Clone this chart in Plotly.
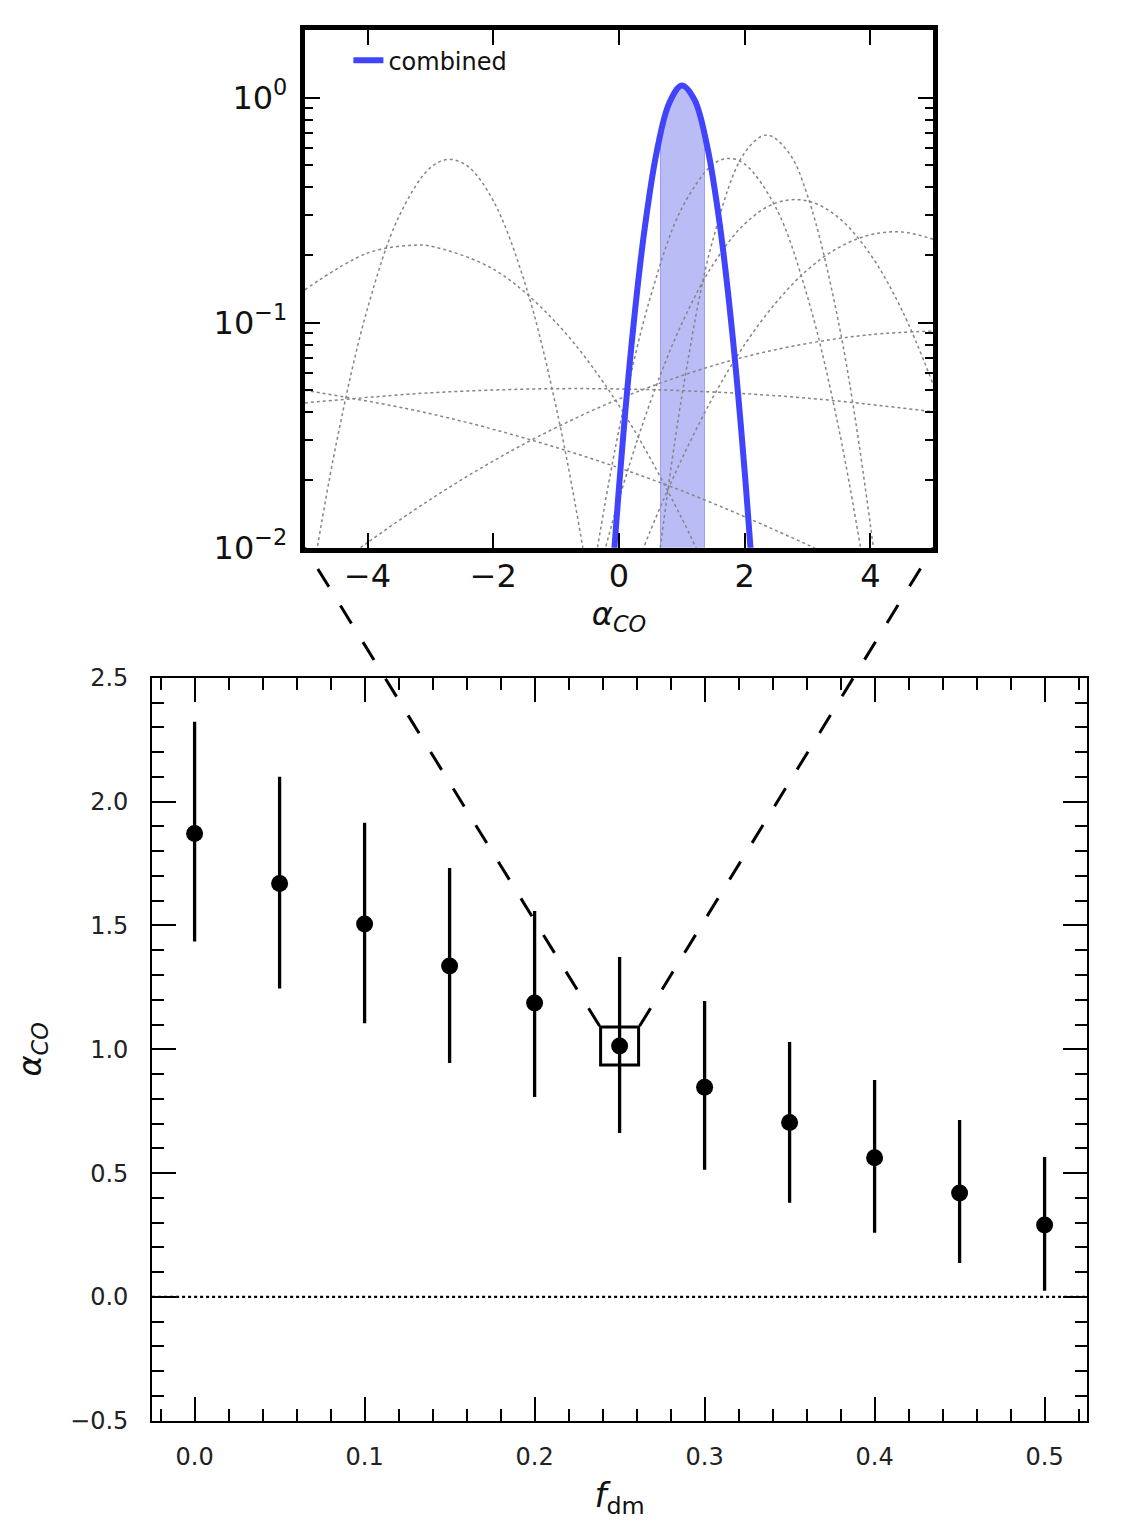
import numpy as np
import plotly.graph_objects as go

# ---- main panel: alpha_CO vs f_dm ----
f_dm = [0.0, 0.05, 0.10, 0.15, 0.20, 0.25, 0.30, 0.35, 0.40, 0.45, 0.50]
alpha_co = [1.872, 1.670, 1.506, 1.336, 1.187, 1.013, 0.847, 0.704, 0.562, 0.420, 0.290]
alpha_hi = [2.323, 2.101, 1.915, 1.732, 1.559, 1.373, 1.195, 1.029, 0.876, 0.714, 0.565]
alpha_lo = [1.435, 1.246, 1.105, 0.945, 0.807, 0.662, 0.514, 0.380, 0.259, 0.137, 0.025]
zoom_idx = 5  # the point shown in the inset

# ---- inset: individual likelihoods (dotted) ----
curve_a_x = [-5.0, -4.5, -4.0, -3.5, -3.0, -2.7, -2.4, -2.0, -1.5, -1.0, -0.5, 0.0]
curve_a_y = [0.00463, 0.0289, 0.116, 0.297, 0.489, 0.532, 0.494, 0.348, 0.151, 0.0421, 0.0075, 0.00086]
curve_b_x = [-5.0, -4.0, -3.27, -3.0, -2.0, -1.0, 0.0, 1.0, 1.5]
curve_b_y = [0.140, 0.204, 0.221, 0.219, 0.173, 0.100, 0.0428, 0.0135, 0.00671]
curve_c_x = [-0.5, 0.0, 0.5, 1.0, 1.5, 1.75, 2.0, 2.5, 3.0, 3.5, 4.0]
curve_c_y = [0.00547, 0.0335, 0.130, 0.323, 0.507, 0.537, 0.507, 0.323, 0.130, 0.0335, 0.00547]
curve_d_x = [0.5, 1.0, 1.5, 2.0, 2.35, 2.7, 3.0, 3.5, 4.0, 4.5]
curve_d_y = [0.00452, 0.0471, 0.237, 0.570, 0.683, 0.570, 0.367, 0.0982, 0.0126, 0.00078]
curve_e_x = [-0.5, 0.0, 0.5, 1.0, 1.5, 2.0, 2.5, 3.0, 3.5, 4.0, 4.5, 5.0]
curve_e_y = [0.00497, 0.0164, 0.0445, 0.0993, 0.182, 0.275, 0.341, 0.348, 0.292, 0.201, 0.114, 0.0531]
curve_f_x = [0.0, 0.5, 1.0, 1.5, 2.0, 2.5, 3.0, 3.5, 4.0, 4.5, 5.0]
curve_f_y = [0.00515, 0.0119, 0.0248, 0.0469, 0.0800, 0.123, 0.172, 0.216, 0.246, 0.253, 0.235]
curve_g_x = [-5.0, -3.0, -1.0, 1.0, 3.0, 5.0]
curve_g_y = [0.0440, 0.0488, 0.0509, 0.0499, 0.0462, 0.0402]
curve_h_x = [-5.0, -3.0, -1.0, 1.0, 3.0, 4.0]
curve_h_y = [0.0501, 0.0394, 0.0279, 0.0179, 0.0103, 0.00752]
curve_i_x = [-4.5, -4.0, -3.0, -2.0, -1.0, 0.0, 1.0, 2.0, 3.0, 4.0, 5.0]
curve_i_y = [0.00828, 0.01054, 0.0164, 0.0243, 0.0342, 0.0458, 0.0582, 0.0705, 0.0809, 0.0885, 0.0918]

# combined likelihood and its 1-sigma band
comb_x = [-0.2, 0.0, 0.2, 0.4, 0.6, 0.8, 1.0, 1.2, 1.4, 1.6, 1.8, 2.0, 2.2]
comb_y = [0.00308, 0.0185, 0.0802, 0.252, 0.575, 0.948, 1.133, 0.980, 0.614, 0.278, 0.0914, 0.0217, 0.00374]
band_x = [0.66, 0.66, 0.7, 0.8, 0.9, 1.0, 1.1, 1.2, 1.3, 1.36, 1.36]
band_y = [0.009, 0.691, 0.769, 0.948, 1.080, 1.133, 1.097, 0.980, 0.807, 0.691, 0.009]

W, H = 1122, 1528
FONT = "DejaVu Sans"
BLUE = "rgb(64,68,250)"

inset_xdom = [0.27161, 0.83178]
inset_ydom = [0.64156, 0.98037]
inset_xr = [-5, 5]
inset_yr = [-2, 0.301]
main_xdom = [0.13556, 0.96889]
main_ydom = [0.07022, 0.55635]
main_xr = [-0.025, 0.525]
main_yr = [-0.5, 2.5]

fig = go.Figure()

fig.add_trace(go.Scatter(
    x=band_x, y=band_y, fill="toself", fillcolor="#babdf5",
    line=dict(color="rgba(110,115,240,0.6)", width=1),
    mode="lines", showlegend=False, hoverinfo="skip",
    xaxis="x", yaxis="y"))

for cx, cy in [(curve_a_x, curve_a_y), (curve_b_x, curve_b_y), (curve_c_x, curve_c_y),
               (curve_d_x, curve_d_y), (curve_e_x, curve_e_y), (curve_f_x, curve_f_y),
               (curve_g_x, curve_g_y), (curve_h_x, curve_h_y), (curve_i_x, curve_i_y)]:
    fig.add_trace(go.Scatter(
        x=cx, y=cy, mode="lines",
        line=dict(color="#858585", width=1.5, dash="dot", shape="spline"),
        showlegend=False, xaxis="x", yaxis="y"))

fig.add_trace(go.Scatter(
    x=comb_x, y=comb_y, mode="lines", name="combined",
    line=dict(color=BLUE, width=6, shape="spline"),
    xaxis="x", yaxis="y"))

# main panel
plus = np.array(alpha_hi) - np.array(alpha_co)
minus = np.array(alpha_co) - np.array(alpha_lo)
fig.add_trace(go.Scatter(
    x=f_dm, y=alpha_co, mode="markers",
    marker=dict(color="black", size=17),
    error_y=dict(type="data", symmetric=False, array=plus, arrayminus=minus,
                 width=0, thickness=3.3, color="black"),
    showlegend=False, xaxis="x2", yaxis="y2"))

fig.add_trace(go.Scatter(
    x=[f_dm[zoom_idx]], y=[alpha_co[zoom_idx]], mode="markers",
    marker=dict(symbol="square-open", size=38, color="black", line=dict(width=3)),
    showlegend=False, xaxis="x2", yaxis="y2"))

# dotted zero line
fig.add_shape(type="line", xref="x2 domain", yref="y2", x0=0, x1=1, y0=0, y1=0,
              line=dict(color="black", width=2.4, dash="dot"))


def main_to_paper(x, y):
    px = main_xdom[0] + (x - main_xr[0]) / (main_xr[1] - main_xr[0]) * (main_xdom[1] - main_xdom[0])
    py = main_ydom[0] + (y - main_yr[0]) / (main_yr[1] - main_yr[0]) * (main_ydom[1] - main_ydom[0])
    return px, py


# connectors from the inset's lower corners to the box around the zoomed point
bx, by = main_to_paper(f_dm[zoom_idx], alpha_co[zoom_idx])
half_w = 20.0 / W
half_h = 20.0 / H
corners = [((inset_xdom[0], inset_ydom[0]), (bx - half_w, by + half_h)),
           ((inset_xdom[1], inset_ydom[0]), (bx + half_w, by + half_h))]
for (x0, y0), (x1, y1) in corners:
    fig.add_shape(type="line", xref="paper", yref="paper", x0=x1, y0=y1, x1=x0, y1=y0,
                  line=dict(color="black", width=3, dash="21px,22px"))

tick_font = dict(family=FONT, size=24, color="#222")
big_font = dict(family=FONT, size=32, color="#111")
inset_font = dict(family=FONT, size=32, color="#111")

fig.update_layout(
    width=W, height=H,
    margin=dict(l=0, r=0, t=0, b=0, autoexpand=False),
    paper_bgcolor="white", plot_bgcolor="white",
    font=dict(family=FONT, color="#111"),
    showlegend=True,
    legend=dict(x=0.3105, y=0.975, xanchor="left", yanchor="top",
                bgcolor="rgba(0,0,0,0)", font=dict(family=FONT, size=24, color="#111")),
    xaxis=dict(
        domain=inset_xdom, range=inset_xr, anchor="y", automargin=False,
        showline=True, linewidth=5, linecolor="black", mirror="allticks",
        ticks="inside", ticklen=15, tickwidth=1.6, tickcolor="black",
        tickvals=[-4, -2, 0, 2, 4], tickfont=inset_font,
        showgrid=False, zeroline=False, ticklabelstandoff=-4,
        title=dict(text="<i>α<sub>CO</sub></i>", font=big_font, standoff=6)),
    yaxis=dict(
        domain=inset_ydom, type="log", range=inset_yr, anchor="x", automargin=False,
        showline=True, linewidth=5, linecolor="black", mirror="allticks",
        ticks="inside", ticklen=15, tickwidth=1.6, tickcolor="black",
        tickvals=[0.01, 0.1, 1],
        ticktext=["10<sup>−2</sup>", "10<sup>−1</sup>", "10<sup>0</sup>"],
        tickfont=inset_font,
        minor=dict(ticks="inside", ticklen=8, tickwidth=1.6, tickcolor="black",
                   tickvals=[0.02, 0.03, 0.04, 0.05, 0.06, 0.07, 0.08, 0.09,
                             0.2, 0.3, 0.4, 0.5, 0.6, 0.7, 0.8, 0.9, 2]),
        showgrid=False, zeroline=False, ticklabelstandoff=6),
    xaxis2=dict(
        domain=main_xdom, range=main_xr, anchor="y2", automargin=False,
        showline=True, linewidth=2, linecolor="black", mirror="allticks",
        ticks="inside", ticklen=24, tickwidth=1.6, tickcolor="black",
        tick0=0, dtick=0.1, tickformat=".1f", tickfont=tick_font,
        minor=dict(ticks="inside", ticklen=12, tickwidth=1.6, tickcolor="black", dtick=0.02),
        showgrid=False, zeroline=False, ticklabelstandoff=13,
        title=dict(text="<i>f</i><sub>dm</sub>", font=dict(family=FONT, size=34, color="#111"),
                   standoff=14)),
    yaxis2=dict(
        domain=main_ydom, range=main_yr, anchor="x2", automargin=False,
        showline=True, linewidth=2, linecolor="black", mirror="allticks",
        ticks="inside", ticklen=24, tickwidth=1.6, tickcolor="black",
        tick0=0, dtick=0.5, tickformat=".1f", tickfont=tick_font,
        minor=dict(ticks="inside", ticklen=12, tickwidth=1.6, tickcolor="black", dtick=0.1),
        showgrid=False, zeroline=False, ticklabelstandoff=17,
        title=dict(text="<i>α<sub>CO</sub></i>", font=big_font, standoff=19)),
)

fig.write_html("out.html", config={"displayModeBar": False},
               post_script="document.body.style.margin='0px';")
